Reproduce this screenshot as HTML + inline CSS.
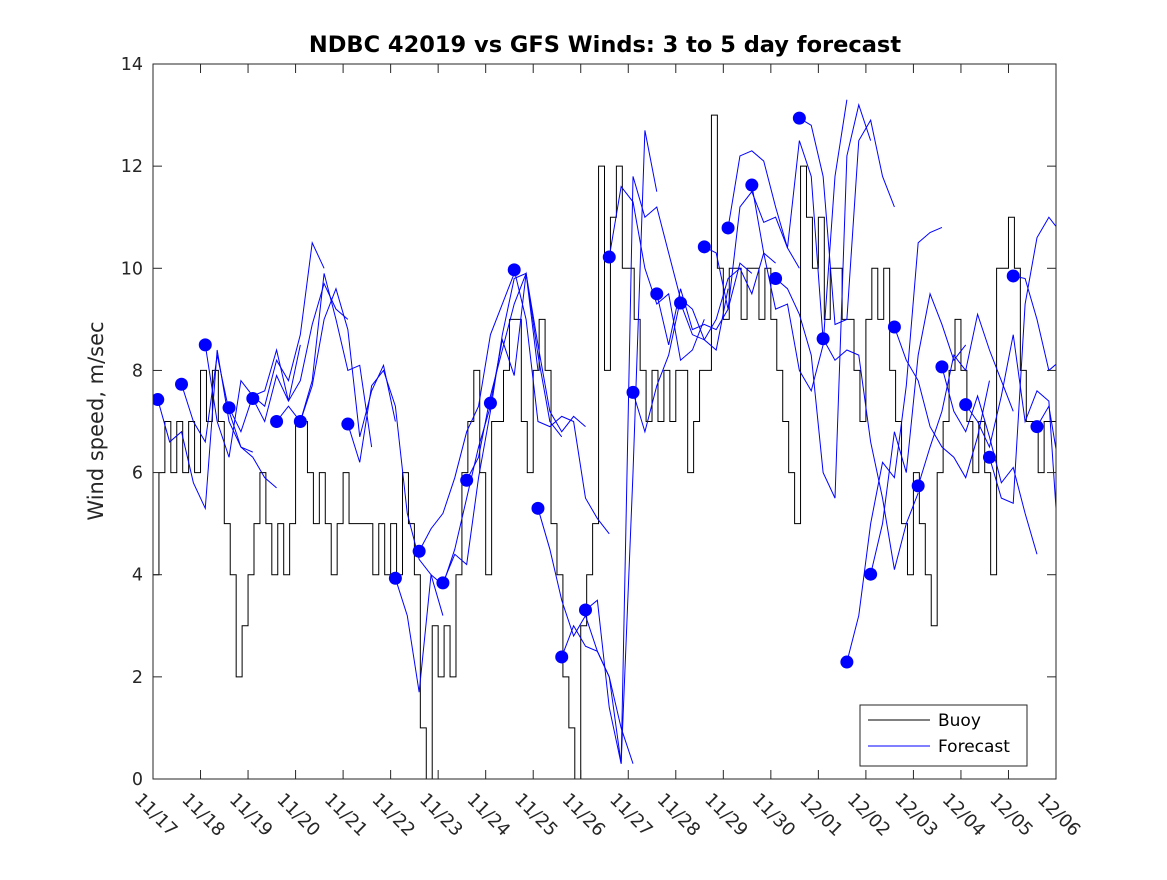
<!DOCTYPE html>
<html><head><meta charset="utf-8"><style>
body{margin:0;background:#fff;}
svg text{font-family:"DejaVu Sans","Liberation Sans",sans-serif;}
</style></head><body>
<svg id="chart" width="1167" height="875" xmlns="http://www.w3.org/2000/svg">
<defs><clipPath id="plotclip"><rect x="153" y="64" width="903" height="715"/></clipPath></defs>
<rect width="1167" height="875" fill="#fff"/>
<text x="605" y="52" text-anchor="middle" font-size="22.5" font-weight="bold" fill="#000">NDBC 42019 vs GFS Winds: 3 to 5 day forecast</text>
<text transform="translate(103,421) rotate(-90)" text-anchor="middle" font-size="21" fill="#262626">Wind speed, m/sec</text>
<g id="series" clip-path="url(#plotclip)"></g>
<rect x="153" y="64" width="903" height="715" fill="none" stroke="#262626" stroke-width="1"/>
<g id="axes"></g>
<g>
<rect x="860" y="705" width="167" height="61" fill="#fff" stroke="#262626"/>
<line x1="868" y1="720" x2="930" y2="720" stroke="#000"/>
<text x="938" y="726" font-size="17" fill="#000">Buoy</text>
<line x1="868" y1="746" x2="930" y2="746" stroke="#00f"/>
<text x="938" y="752" font-size="17" fill="#000">Forecast</text>
</g>
</svg>
<script>
const xTickLabels=["11/17","11/18","11/19","11/20","11/21","11/22","11/23","11/24","11/25","11/26","11/27","11/28","11/29","11/30","12/01","12/02","12/03","12/04","12/05","12/06"];
const yTicks=[0,2,4,6,8,10,12,14];
// buoy values every 0.125 day
const buoy=[4,6,7,6,7,6,7,6,8,7,8,7,5,4,2,3,4,5,6,5,4,5,4,5,7,7,6,5,6,5,4,5,6,5,5,5,5,4,5,4,5,4,6,5,4,1,0,3,2,3,2,4,6,7,8,6,4,7,7,8,9,9,7,6,8,9,8,5,4,2,1,0,3,4,5,12,8,11,12,10,10,9,8,7,8,7,8,7,8,8,6,7,8,8,13,10,9,10,10,9,10,10,9,10,9,8,7,6,5,12,11,10,11,9,10,10,9,9,8,7,9,10,9,10,8,7,5,4,6,5,4,3,6,7,8,9,8,7,6,7,6,4,10,10,11,10,8,7,7,6,7,7,7];
// forecast runs: start days and values every 0.25 day
const runStarts=[0.1,0.6,1.1,1.6,2.1,2.6,3.1,4.1,5.1,5.6,6.1,6.6,7.1,7.6,8.1,8.6,9.1,9.6,10.1,10.6,11.1,11.6,12.1,12.6,13.1,13.6,14.1,14.6,15.1,15.6,16.1,16.6,17.1,17.6,18.1,18.6];
const runValues=[
[7.43,6.6,6.8,5.8,5.3,8.4,7,6.5,6.4],
[7.73,7.0,6.6,8.3,7.2,6.5,6.3,5.9,5.7],
[8.5,7,6.3,7.8,7.5,7.6,8.4,7.4,8.5],
[7.27,6.8,7.5,7.3,8.2,7.8,8.7,10.5,10.0],
[7.45,7.0,7.9,7.4,7.8,8.9,9.7,9.2,9.0],
[7.0,7.3,7.0,7.8,9.9,9.0,8.0,8.1,6.5],
[7.0,7.7,9.0,9.6,8.8,6.7,7.6,8.1,7.0],
[6.95,6.2,7.7,8.0,7.3,5.2,4.3,4.0,3.2],
[3.93,3.2,1.7,4.0,3.8,4.5,5.5,6.5,7.3],
[4.46,4.9,5.2,5.9,6.8,7.3,8.7,9.3,9.9],
[3.84,4.4,4.2,5.9,7.2,8.7,9.8,9.9,8.0],
[5.85,6.3,7.5,8.4,9.3,9.9,8.3,7.0,6.7],
[7.36,8.6,7.9,9.9,8.5,7.2,6.8,7.1,6.9],
[9.97,9.0,7.0,6.9,7.1,7.0,5.5,5.1,4.8],
[5.3,4.5,3.5,2.8,3.2,2.5,2.0,1.0,0.3],
[2.39,3.0,2.6,2.5,2.0,0.3,6,12.7,11.5],
[3.31,3.5,1.4,0.3,11.8,11.0,11.2,10.3,9.4],
[10.22,11.6,11.3,10.0,9.3,9.5,8.2,8.4,9.0],
[7.57,6.8,7.7,8.3,9.4,9.2,8.6,8.4,9.6],
[9.5,8.5,9.6,8.8,8.9,8.8,9.2,10.1,9.9],
[9.32,8.7,8.6,9.0,9.8,10.0,9.5,10.3,10.1],
[10.42,10.3,9.2,11.2,11.5,10.9,11.0,10.4,10.0],
[10.79,12.2,12.3,12.1,11.2,10.4,12.5,11.8,8.6],
[11.63,10.3,9.2,9.3,8.0,7.6,8.5,11.8,13.3],
[9.8,9.6,9.1,8.3,6.0,5.5,12.2,13.2,12.5],
[12.94,12.8,11.8,8.9,9.0,12.5,12.9,11.8,11.2],
[8.62,8.2,8.4,8.3,6.6,5.5,4.1,5.0,5.6],
[2.29,3.2,5.0,6.2,5.9,7.7,10.5,10.7,10.8],
[4.01,5.0,6.8,6.0,8.3,9.5,8.9,8.2,8.5],
[8.85,8.2,7.8,6.9,6.5,6.3,5.9,6.7,7.8],
[5.74,6.5,7.2,8.3,8.0,9.1,8.4,7.8,7.2],
[8.07,7.2,6.8,7.5,6.7,5.8,6.1,5.2,4.4],
[7.33,7.0,6.5,7.5,8.7,7.0,7.6,7.4,3.9],
[6.3,5.5,5.4,9.3,10.6,11.0,10.7,9.6,9.4],
[9.85,9.8,9.0,8.0,8.2,8.8,8.8,7.1,6.7],
[6.9,7.3,5.9,5.3,4.2,4.0,4.0,4.0,4.0]
];
const dotValues=[7.43,7.73,8.5,7.27,7.45,7.0,7.0,6.95,3.93,4.46,3.84,5.85,7.36,9.97,5.3,2.39,3.31,10.22,7.57,9.5,9.32,10.42,10.79,11.63,9.8,12.94,8.62,2.29,4.01,8.85,5.74,8.07,7.33,6.3,9.85,6.9];

const X0=153,X1=1056,Y0=779,Y1=64;
const xs=d=>X0+(X1-X0)*d/19;
const ys=v=>Y0-(Y0-Y1)*v/14;
const NS="http://www.w3.org/2000/svg";
function mk(tag,attrs,parent){const e=document.createElementNS(NS,tag);for(const k in attrs)e.setAttribute(k,attrs[k]);parent.appendChild(e);return e;}
const axes=document.getElementById('axes'),series=document.getElementById('series');
yTicks.forEach(v=>{
  const l=mk('line',{x1:X0,x2:X0+9,y1:ys(v),y2:ys(v),stroke:'#262626'},axes);
  
  
  const l2=mk('line',{x1:X1-9,x2:X1,y1:ys(v),y2:ys(v),stroke:'#262626'},axes);
  
  
  const t=mk('text',{x:X0-10,y:ys(v)+6,'text-anchor':'end','font-size':'17.5',fill:'#262626'},axes);
  t.textContent=v;
  
  
});
xTickLabels.forEach((s,i)=>{
  const x=xs(i);
  const l=mk('line',{x1:x,x2:x,y1:Y0,y2:Y0-9,stroke:'#262626'},axes);
  
  
  const l2=mk('line',{x1:x,x2:x,y1:Y1,y2:Y1+9,stroke:'#262626'},axes);
  
  
  const t=mk('text',{transform:`translate(${x-10},${Y0+12}) rotate(45)`,'font-size':'18',fill:'#262626',dy:'0.75em'},axes);
  t.textContent=s;
  
  
});
let d='';
buoy.forEach((v,i)=>{const x=xs(i*0.125),y=ys(v);d+=(i===0?`M${x},${y}`:`V${y}`)+`H${xs(Math.min(19,(i+1)*0.125))}`;});
const bp=mk('path',{d:d,fill:'none',stroke:'#000','stroke-width':'1'},series);


runValues.forEach((arr,k)=>{
  const pts=arr.map((v,i)=>`${xs(runStarts[k]+i*0.25)},${ys(v)}`).join(' ');
  const p=mk('polyline',{points:pts,fill:'none',stroke:'#00f','stroke-width':'1'},series);
  
  
});
dotValues.forEach((v,i)=>{
  const c=mk('circle',{cx:xs(runStarts[i]),cy:ys(v),r:6.5,fill:'#00f'},series);
  
  
});
</script>
</body></html>
